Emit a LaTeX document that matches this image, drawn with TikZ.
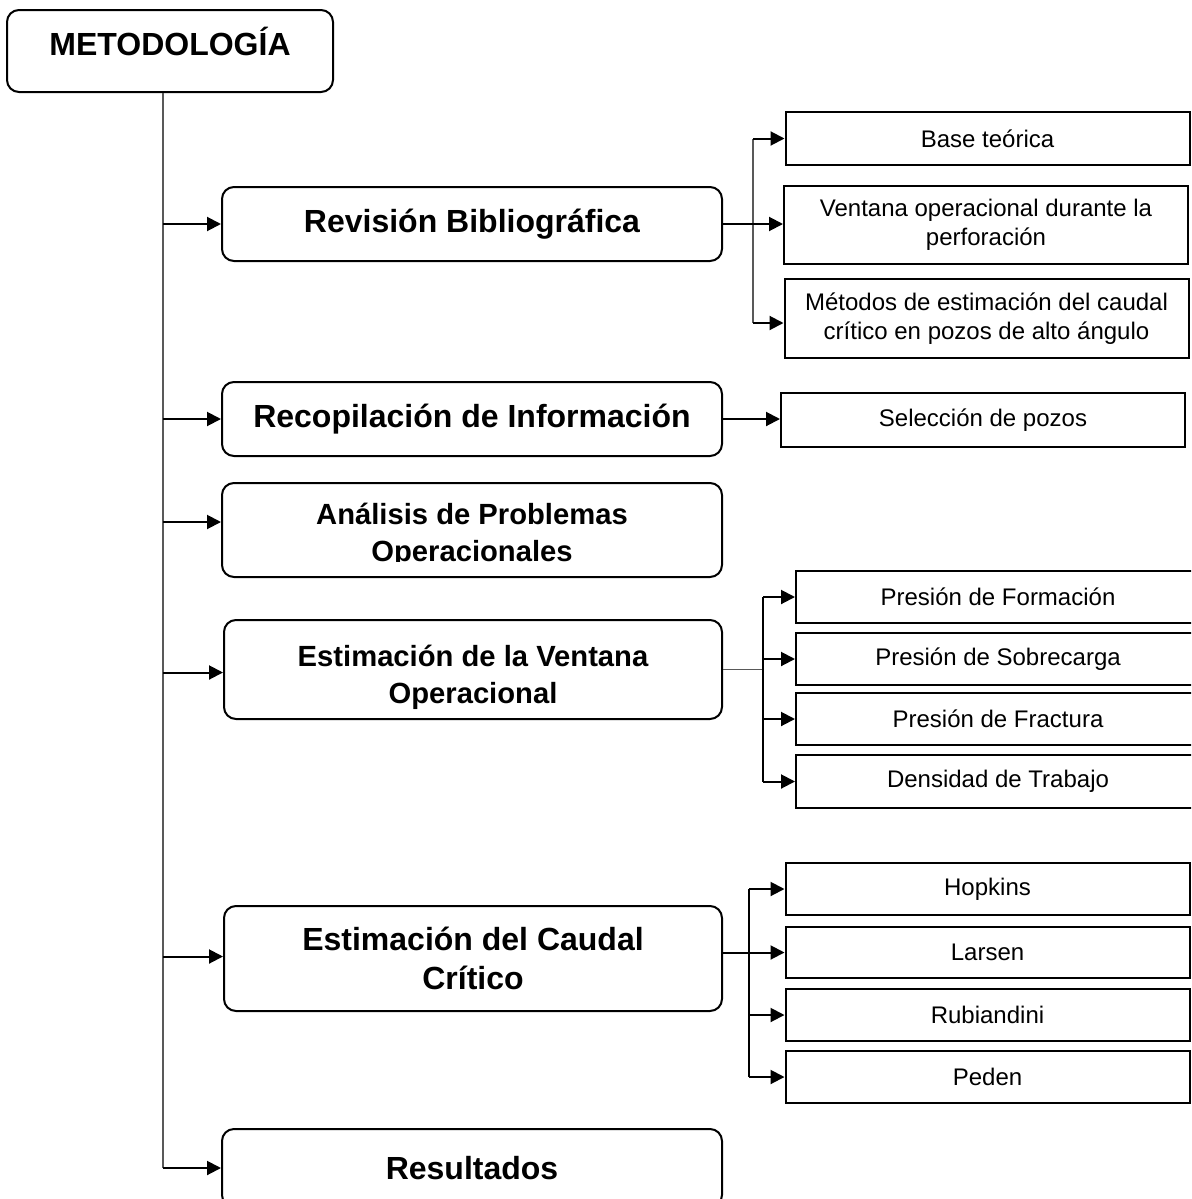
\documentclass[tikz,border=0pt]{standalone}
\usepackage{fontspec}
\setmainfont{Liberation Sans}
\usetikzlibrary{arrows.meta}

\tikzset{
  mainbox/.style={draw, line width=1pt, rounded corners=6pt, inner sep=0pt, align=center,
    font=\bfseries\fontsize{16}{19.5}\selectfont},
  midfont/.style={font=\bfseries\fontsize{14.6}{18.5}\selectfont},
  subbox/.style={draw, line width=1pt, inner sep=0pt, align=center, minimum width=202pt,
    font=\fontsize{12}{14.5}\selectfont},
  trunkline/.style={line width=0.6pt, draw=black!65},
  forkline/.style={line width=0.6pt},
  arrowline/.style={line width=1pt, -{Triangle[length=7pt,width=7pt]}},
}

\begin{document}
\begin{tikzpicture}[x=0.5pt, y=-0.5pt]
\clip (0,0) rectangle (1191,1199);
% main column
\node[mainbox, minimum width=163pt, minimum height=41pt, text height=12pt, text depth=8pt] (meto) at (170,51) {METODOLOGÍA};
\node[mainbox, minimum width=250pt, minimum height=37pt] (revision) at (472,224) {Revisión Bibliográfica};
\node[mainbox, minimum width=250pt, minimum height=37pt] (recop) at (472,419) {Recopilación de Información};
\node[mainbox, minimum width=250pt, minimum height=47pt] (analisis) at (472,530) {};
\begin{scope}
\clip (222,483) rectangle (722,561);
\node[midfont, align=center, inner sep=0pt] (analisistxt) at (472,535) {Análisis de Problemas\\Operacionales};
\end{scope}
\node[mainbox, midfont, minimum width=249pt, minimum height=49.5pt] (ventana) at (473,669.5) {\rule{0pt}{18.5pt}Estimación de la Ventana\\Operacional};
\node[mainbox, minimum width=249pt, minimum height=52.5pt] (caudal) at (473,958.5) {Estimación del Caudal\\Crítico};
\node[mainbox, minimum width=250pt, minimum height=39pt] (resultados) at (472,1168) {Resultados};

% right column
\node[subbox, minimum height=26.5pt] (base) at (987.5,138.5) {Base teórica};
\node[subbox, minimum height=39pt] (ventanaop) at (986,225) {Ventana operacional durante la\\perforación};
\node[subbox, minimum height=39.5pt] (metodos) at (986.5,318.5) {Métodos de estimación del caudal\\crítico en pozos de alto ángulo};
\node[subbox, minimum height=27pt] (seleccion) at (983,420) {Selección de pozos};
\node[subbox, minimum height=26pt] (pformacion) at (998,597) {Presión de Formación};
\node[subbox, minimum height=26pt] (psobrecarga) at (998,659) {Presión de Sobrecarga};
\node[subbox, minimum height=26pt] (pfractura) at (998,719) {Presión de Fractura};
\node[subbox, minimum height=26.5pt] (densidad) at (998,781.5) {Densidad de Trabajo};
\node[subbox, minimum height=26pt] (hopkins) at (987.5,889) {Hopkins};
\node[subbox, minimum height=25.5pt] (larsen) at (987.5,952.5) {Larsen};
\node[subbox, minimum height=26pt] (rubiandini) at (987.5,1015) {Rubiandini};
\node[subbox, minimum height=26pt] (peden) at (987.5,1077) {Peden};

% trunk
\coordinate (trunk) at (163,1168);
\draw[trunkline] (trunk |- meto.south) -- (trunk);
\foreach \n/\dy in {revision/0, recop/0, analisis/4, ventana/-1.5, caudal/1, resultados/0} {
  \coordinate (in) at ([yshift=\dy pt]\n.west);
  \draw[arrowline] (trunk |- in) -- (in);
}

% forks
\coordinate (revfork) at (753,0);
\coordinate (metin) at ([yshift=-2.25pt]metodos.west);
\draw[trunkline] (revfork |- base.west) -- (revfork |- metin);
\draw[arrowline] (revision.east) -- (revision.east -| ventanaop.west);
\draw[arrowline] (revfork |- base.west) -- (base.west);
\draw[arrowline] (revfork |- metin) -- (metin);

\draw[arrowline] (recop.east) -- (recop.east -| seleccion.west);

\coordinate (ventfork) at (763,0);
\draw[trunkline] (ventana.east) -- (ventana.east -| ventfork);
\draw[forkline] (ventfork |- pformacion.west) -- (ventfork |- densidad.west);
\foreach \n in {pformacion, psobrecarga, pfractura, densidad}
  \draw[arrowline] (ventfork |- \n.west) -- (\n.west);

\coordinate (caudfork) at (749,0);
\draw[forkline] (caudfork |- hopkins.west) -- (caudfork |- peden.west);
\draw[arrowline] (caudal.east |- larsen.west) -- (larsen.west);
\foreach \n in {hopkins, rubiandini, peden}
  \draw[arrowline] (caudfork |- \n.west) -- (\n.west);
\end{tikzpicture}
\end{document}
